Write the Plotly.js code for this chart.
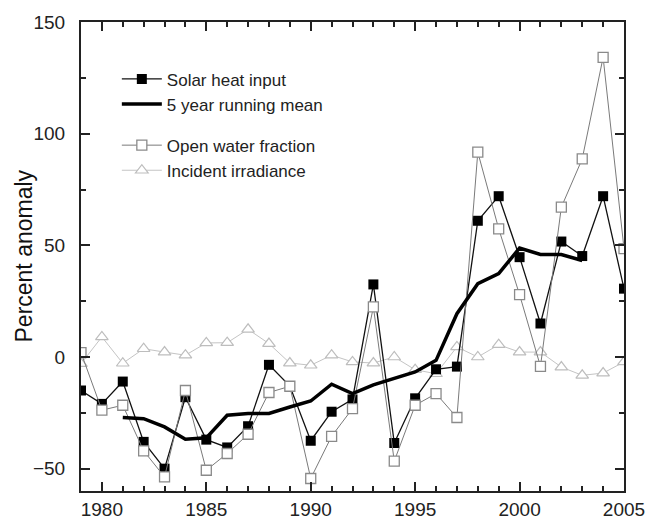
<!DOCTYPE html>
<html>
<head>
<meta charset="utf-8">
<script src="https://cdn.plot.ly/plotly-3.0.1.min.js"></script>
<style>html,body{margin:0;padding:0;background:#fff;}#chart{width:647px;height:521px;}</style>
</head>
<body>
<div id="chart"></div>
<script>
const years = [1979,1980,1981,1982,1983,1984,1985,1986,1987,1988,1989,1990,1991,1992,1993,1994,1995,1996,1997,1998,1999,2000,2001,2002,2003,2004,2005];
const solarHeat = [-15,-21,-11,-38,-50,-18,-37,-40.5,-31,-3.5,-13,-37.5,-24.5,-19,32.5,-38.5,-18.5,-5.5,-4.3,61,72,44.7,15,51.7,45.2,72,30.6];
const openWater = [2,-23.8,-21.6,-42,-53.7,-15,-50.7,-43.2,-34.6,-15.9,-13.1,-54.4,-35.5,-23.1,22.4,-46.6,-21.6,-16.4,-27.1,91.7,57.4,27.9,-4.2,67.1,88.7,134.2,48.5];
const irradiance = [-3,9,-2.8,3.7,2.2,0.8,6.3,6.4,12.4,6,-2.7,-3.7,0.8,-2.2,-2.7,0,-5.7,-7.5,4.5,0,5.5,2.2,2.2,-4.5,-8.2,-7.2,-2.2];
const meanYears = [1981,1982,1983,1984,1985,1986,1987,1988,1989,1990,1991,1992,1993,1994,1995,1996,1997,1998,1999,2000,2001,2002,2003];
const runningMean = [-27.1,-27.6,-31.3,-36.8,-36.2,-26.1,-25.3,-25.3,-22.4,-19.7,-12.2,-16.4,-12.5,-9.5,-6.7,-1.5,19.4,32.8,37.3,48.8,45.9,45.9,43.2];
const yTitle = 'Percent anomaly';

const traces = [
  {x: years, y: irradiance, name: 'Incident irradiance', mode: 'lines+markers', legendgroup: 'b', legendrank: 4,
   line: {color: '#c4c4c4', width: 1}, marker: {symbol: 'triangle-up', size: 11, color: 'white', line: {color: '#bdbdbd', width: 1.2}}},
  {x: years, y: solarHeat, name: 'Solar heat input', mode: 'lines+markers', legendgroup: 'a', legendrank: 1,
   line: {color: '#111', width: 1.3}, marker: {symbol: 'square', size: 10, color: '#000', line: {color: '#000', width: 0}}},
  {x: years, y: openWater, name: 'Open water fraction', mode: 'lines+markers', legendgroup: 'b', legendrank: 3,
   line: {color: '#7a7a7a', width: 1}, marker: {symbol: 'square', size: 10, color: 'white', line: {color: '#8a8a8a', width: 1.3}}},
  {x: meanYears, y: runningMean, name: '5 year running mean', mode: 'lines', legendgroup: 'a', legendrank: 2,
   line: {color: '#000', width: 3.5}}
];

const axisCommon = {
  showline: true, linecolor: '#222', linewidth: 2, mirror: 'ticks',
  ticks: 'inside', tickcolor: '#222', tickwidth: 2, ticklen: 9,
  showgrid: false, zeroline: false,
  tickfont: {family: 'Liberation Sans, Arial, sans-serif', size: 19, color: '#222'},
  minor: {ticks: 'inside', ticklen: 5, tickwidth: 2, tickcolor: '#222', showgrid: false}
};

const layout = {
  width: 647, height: 521,
  margin: {l: 81, r: 23, t: 22, b: 30},
  paper_bgcolor: 'white', plot_bgcolor: 'white',
  showlegend: true,
  legend: {x: 0.066, y: 0.916, xanchor: 'left', yanchor: 'top', bgcolor: 'rgba(0,0,0,0)',
           traceorder: 'grouped', tracegroupgap: 16, itemwidth: 40,
           font: {family: 'Liberation Sans, Arial, sans-serif', size: 17, color: '#222'}},
  xaxis: Object.assign({}, axisCommon, {range: [1979, 2005], tickmode: 'array', tickvals: [1980,1985,1990,1995,2000,2005],
     minor: Object.assign({}, axisCommon.minor, {dtick: 1, tick0: 1979})}),
  yaxis: Object.assign({}, axisCommon, {range: [-60, 150], tickvals: [-50,0,50,100,150], ticklabelstandoff: 10,
     minor: Object.assign({}, axisCommon.minor, {dtick: 25, tick0: -50})}),
  annotations: [{text: yTitle, xref: 'paper', yref: 'paper', x: 0, y: 0.5, xshift: -58, xanchor: 'center', yanchor: 'middle',
     textangle: -90, showarrow: false, font: {family: 'Liberation Sans, Arial, sans-serif', size: 23, color: '#111'}}]
};

Plotly.newPlot('chart', traces, layout, {displayModeBar: false, staticPlot: true});
</script>
</body>
</html>
